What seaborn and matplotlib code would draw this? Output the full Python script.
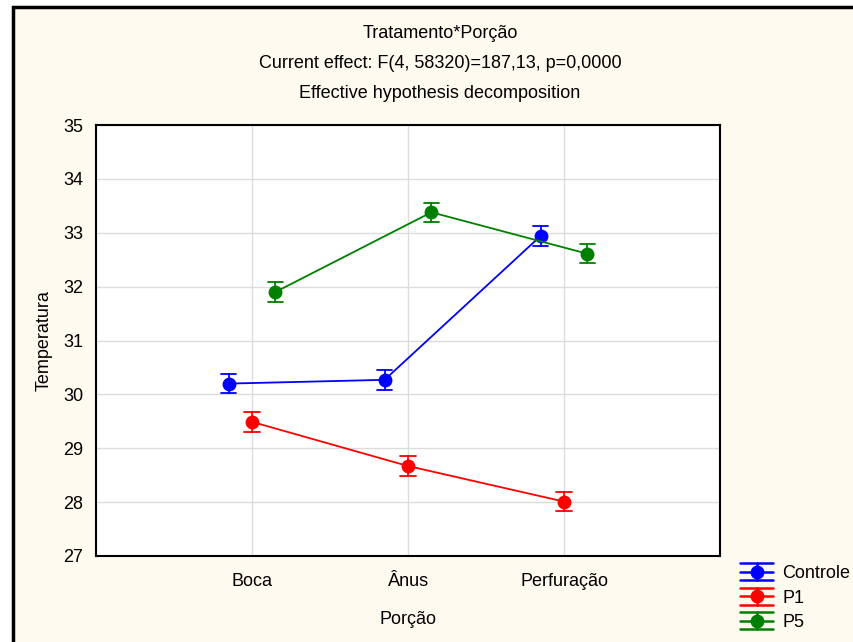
import numpy as np
import pandas as pd
import matplotlib
matplotlib.use("Agg")
import matplotlib.pyplot as plt
from matplotlib.lines import Line2D
from matplotlib.patches import Rectangle
from matplotlib.legend_handler import HandlerBase
import seaborn as sns

# Means and confidence half-widths per treatment across the three body portions
porcao = ["Boca", "Ânus", "Perfuração"]
tratamentos = ["Controle", "P1", "P5"]
media_controle = [30.20, 30.27, 32.94]
media_p1 = [29.49, 28.67, 28.01]
media_p5 = [31.90, 33.38, 32.61]
erro_controle = [0.18, 0.18, 0.18]
erro_p1 = [0.18, 0.18, 0.18]
erro_p5 = [0.18, 0.18, 0.18]
cores = ["#0000FF", "#FF0000", "#008000"]
yticks = [27, 28, 29, 30, 31, 32, 33, 34, 35]

medias = {"Controle": media_controle, "P1": media_p1, "P5": media_p5}
erros = {"Controle": erro_controle, "P1": erro_p1, "P5": erro_p5}

# Each cell is stored as its lower and upper interval limits; the mean of the
# pair is the cell mean and the range of the pair is the error bar.
rows = []
for t in tratamentos:
    for p, m, e in zip(porcao, medias[t], erros[t]):
        rows.append({"Tratamento": t, "Porção": p, "Temperatura": m - e})
        rows.append({"Tratamento": t, "Porção": p, "Temperatura": m + e})
df = pd.DataFrame(rows)

sns.set_style("white")
plt.rcParams["font.family"] = ["Liberation Sans", "DejaVu Sans"]
plt.rcParams["font.size"] = 13
plt.rcParams["text.color"] = "black"
plt.rcParams["axes.labelcolor"] = "black"

cream = "#FFFAEF"
fig = plt.figure(figsize=(8.54, 6.42), dpi=100, facecolor="white")
W, H = 854, 642
fig.patches.append(Rectangle((13 / W, -0.2), 1.2, (H - 7) / H + 0.2,
                             transform=fig.transFigure, facecolor=cream,
                             edgecolor="black", linewidth=2.5, zorder=-10))

ax = fig.add_axes([96 / W, (H - 556) / H, (720 - 96) / W, (556 - 125) / H])
ax.set_facecolor("white")

sns.pointplot(data=df, x="Porção", y="Temperatura", hue="Tratamento",
              order=porcao, hue_order=tratamentos, palette=cores,
              estimator="mean", errorbar=lambda v: (v.min(), v.max()),
              dodge=0.3, markers="o", markersize=9, linewidth=1.3,
              capsize=0.1, err_kws={"linewidth": 1.3}, legend=False, ax=ax)

ax.set_xlim(-1, 3)
ax.set_ylim(27, 35)
ax.set_yticks(yticks)
ax.set_xticks([0, 1, 2])
ax.set_xticklabels(porcao)
ax.grid(True, color="#DCDCDC", linewidth=1.0)
ax.set_axisbelow(True)
for s in ax.spines.values():
    s.set_visible(True)
    s.set_color("black")
    s.set_linewidth(1.5)
ax.tick_params(axis="both", direction="in", length=3, width=1, labelsize=13,
               colors="black")
ax.tick_params(axis="x", pad=12)
ax.tick_params(axis="y", pad=9)
ax.set_xlabel("Porção", fontsize=13, labelpad=15, color="black")
ax.set_ylabel("Temperatura", fontsize=13, labelpad=8, color="black")

cx = 440 / W
fig.text(cx, 1 - 33 / H, "Tratamento*Porção", ha="center", va="center",
         fontsize=13, color="black")
fig.text(cx, 1 - 63 / H, "Current effect: F(4, 58320)=187,13, p=0,0000",
         ha="center", va="center", fontsize=13, color="black")
fig.text(cx, 1 - 93 / H, "Effective hypothesis decomposition",
         ha="center", va="center", fontsize=13, color="black")


class ErrorbarHandle(HandlerBase):
    def create_artists(self, legend, orig_handle, xdescent, ydescent,
                       width, height, fontsize, trans):
        c = orig_handle.get_color()
        y0 = height / 2 - ydescent
        x0 = -xdescent
        d = 8.5 * 72 / 100
        arts = [
            Line2D([x0, x0 + width], [y0 + d, y0 + d], color=c, lw=1.8),
            Line2D([x0, x0 + width], [y0, y0], color=c, lw=1.8),
            Line2D([x0, x0 + width], [y0 - d, y0 - d], color=c, lw=1.8),
            Line2D([x0 + width / 2] * 2, [y0 - d, y0 + d], color=c, lw=1.8),
            Line2D([x0 + width / 2], [y0], color=c, marker="o",
                   markersize=9, linestyle="none"),
        ]
        for a in arts:
            a.set_transform(trans)
        return arts


handles = [Line2D([], [], color=c) for c in cores]
fig.legend(handles, tratamentos, loc="upper left",
           bbox_to_anchor=(740 / W, 1 - 565 / H), frameon=False,
           fontsize=13, handlelength=1.85, handletextpad=0.5,
           labelspacing=0.42, borderpad=0, borderaxespad=0,
           labelcolor="black", handler_map={Line2D: ErrorbarHandle()})

fig.savefig("out.png", dpi=100, facecolor=fig.get_facecolor())
